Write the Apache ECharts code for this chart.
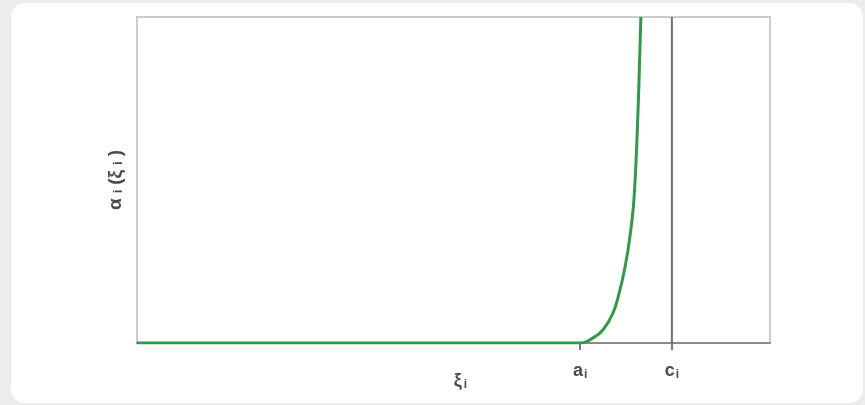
<!DOCTYPE html>
<html>
<head>
<meta charset="utf-8">
<script src="https://cdn.jsdelivr.net/npm/echarts@6/dist/echarts.min.js"></script>
<style>
html,body{margin:0;padding:0;background:#ececec;}
#card{position:absolute;left:11px;top:3px;width:852px;height:400px;background:#fff;border-radius:14px;}
#chart{position:absolute;left:0;top:0;width:865px;height:405px;}
</style>
</head>
<body>
<div id="card"></div>
<div id="chart"></div>
<script>
// Curve α_i(ξ_i): flat at zero until a_i, then rising steeply
const curveX = [0, 70.0, 72.0, 73.6, 75.2, 76.3, 77.1, 77.8, 78.5, 79.1, 79.6];
const curveY = [0, 0, 1.5, 4.0, 9.2, 16.3, 23.3, 31.6, 43.9, 68.4, 100];
const tickValues = [70.0, 84.5];       // a_i, c_i positions
const tickLabels = ['a', 'c'];
const cLine = 84.5;

const chart = echarts.init(document.getElementById('chart'), null, {renderer: 'canvas'});
const font = '"Liberation Sans", Arial, sans-serif';
const curveData = curveX.map((x, i) => [x, curveY[i]]);
const txt = '#4a4a4a';

chart.setOption({
  backgroundColor: 'transparent',
  animation: false,
  grid: {left: 137, right: 95, top: 17, bottom: 62, show: true, containLabel: false,
         outerBoundsMode: 'none',
         borderColor: '#cccccc', borderWidth: 2, backgroundColor: '#fff'},
  xAxis: {
    type: 'value', min: 0, max: 100,
    splitLine: {show: false},
    axisLine: {show: true, lineStyle: {color: '#8a8a8a', width: 2}},
    axisTick: {show: true, customValues: tickValues, length: 7, lineStyle: {color: '#777', width: 2}},
    axisLabel: {
      show: true, customValues: tickValues, margin: 19,
      formatter: function (v) {
        const idx = tickValues.indexOf(v);
        return '{b|' + tickLabels[idx] + '}{s|i}';
      },
      rich: {
        b: {fontFamily: font, fontSize: 18, fontWeight: 'bold', color: txt},
        s: {fontFamily: font, fontSize: 12, fontWeight: 'bold', color: txt, padding: [7, 0, 0, 1]}
      }
    },
    name: '{b|ξ}{s|i}',
    nameLocation: 'middle', nameGap: 29, nameMoveOverlap: false,
    nameTextStyle: {
      padding: [0, 0, 0, 14],
      rich: {
        b: {fontFamily: font, fontSize: 18, fontWeight: 'bold', color: txt},
        s: {fontFamily: font, fontSize: 12, fontWeight: 'bold', color: txt, padding: [7, 0, 0, 2]}
      }
    }
  },
  yAxis: {
    type: 'value', min: 0, max: 100,
    splitLine: {show: false},
    axisLine: {show: false},
    axisTick: {show: false},
    axisLabel: {show: false},
    name: '{b|α}{s|i}{b|(ξ}{s|i}{b|)}',
    nameLocation: 'middle', nameGap: 12, nameRotate: 90, nameMoveOverlap: false,
    nameTextStyle: {
      rich: {
        b: {fontFamily: font, fontSize: 19, fontWeight: 'bold', color: txt},
        s: {fontFamily: font, fontSize: 13, fontWeight: 'bold', color: txt, padding: [6, 5, 0, 5]}
      }
    }
  },
  series: [
    {
      type: 'line', data: [[cLine, 0], [cLine, 100]],
      symbol: 'none', lineStyle: {color: '#707070', width: 2}, z: 2
    },
    {
      type: 'line', data: curveData, smooth: 0.4,
      symbol: 'none', lineStyle: {color: '#2f9a48', width: 3}, z: 3
    }
  ]
});
</script>
</body>
</html>
